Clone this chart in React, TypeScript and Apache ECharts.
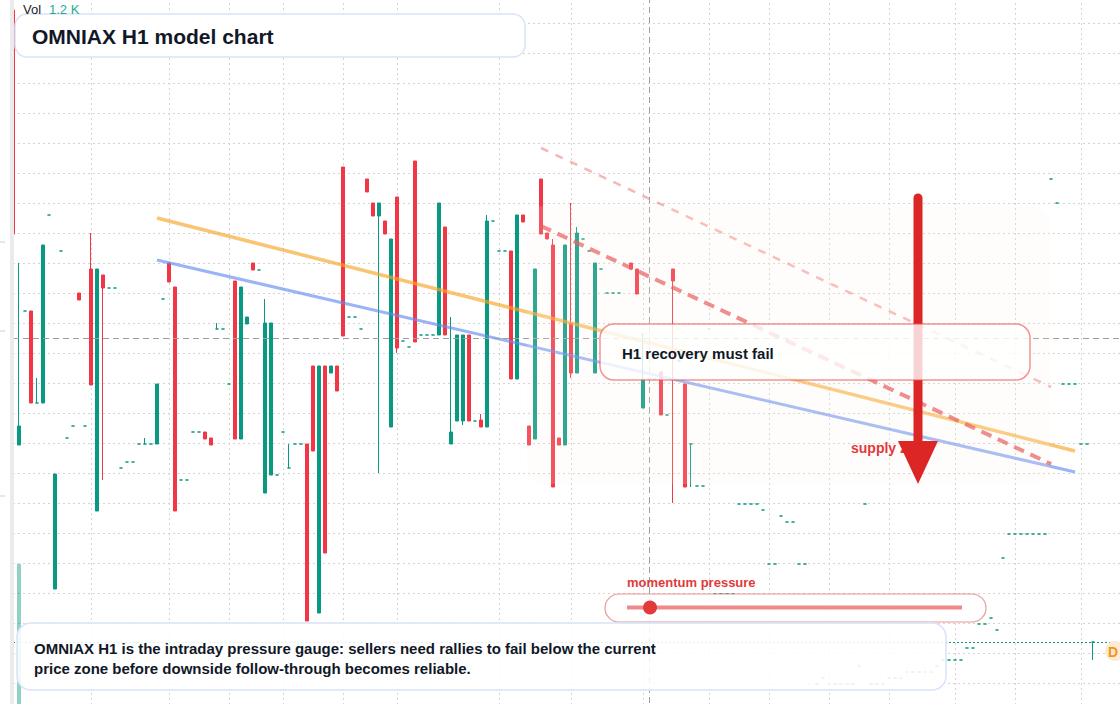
import { useEffect, useRef } from "react";
import * as echarts from "echarts";

// candles: [open, close, low, high]; a single number is a flat (doji) bar, null = no bar
const candles: (number | number[] | null)[] = [
  /* 0 */ [169.3, 146.9, 146.9, 169.3], [125.8, 127.7, 125.8, 144.0], 139.2, [139.2, 130.0, 130.0, 139.2],
  [130.0, 130.0, 130.0, 132.5], [130.0, 145.8, 130.0, 145.8], 148.8, [111.4, 122.9, 111.4, 122.9], 145.2, 126.5,
  /* 10 */ 127.7, [141.0, 140.3, 140.3, 141.0], 127.7, [143.4, 131.8, 131.8, 147.0], [119.2, 143.4, 119.2, 143.4],
  [142.8, 141.5, 122.3, 142.8], 141.5, 141.5, 123.5, 124.1,
  /* 20 */ 124.1, 125.9, [125.9, 125.9, 125.9, 126.5], 125.9, [125.9, 131.9, 125.9, 131.9], 140.4,
  [144.0, 142.1, 142.1, 144.0], [141.6, 119.2, 119.2, 141.6], 122.3, 122.3,
  /* 30 */ 127.1, 127.1, [127.1, 126.4, 126.4, 127.1], [126.5, 125.8, 125.8, 126.5], [137.4, 137.4, 137.4, 138.0],
  137.4, 131.9, [142.2, 126.4, 126.4, 142.2], [126.4, 141.6, 126.4, 141.6], [137.9, 138.6, 137.9, 138.6],
  /* 40 */ [144.0, 143.3, 143.3, 144.0], 143.3, [121.0, 138.0, 121.0, 140.4], [122.8, 138.0, 122.8, 138.0], 122.8,
  127.1, [123.5, 123.5, 123.5, 125.9], 125.9, 125.9, [125.9, 108.2, 108.2, 125.9],
  /* 50 */ [133.7, 125.2, 125.2, 133.7], [109.0, 133.7, 109.0, 133.7], [133.7, 115.0, 115.0, 133.7],
  [133.0, 133.7, 133.0, 133.7], [133.7, 131.2, 131.2, 133.7], [153.6, 136.7, 136.7, 153.6], 138.6, 138.6, 137.4,
  [152.4, 151.1, 151.1, 152.4],
  /* 60 */ [150.0, 148.7, 148.7, 150.0], [148.7, 150.0, 123.0, 150.0], [148.2, 146.9, 146.9, 148.2],
  [127.6, 146.4, 127.6, 146.4], [150.6, 135.5, 135.0, 150.6], 136.2, 135.6, [154.2, 136.1, 136.1, 154.2], 136.8, 136.8,
  /* 70 */ 136.8, [136.8, 150.0, 136.8, 150.0], [147.6, 136.8, 136.8, 147.6], [125.9, 127.1, 125.9, 138.6],
  [128.2, 136.8, 128.2, 136.8], [128.2, 136.8, 127.8, 136.8], [136.8, 128.2, 128.2, 136.8], 128.2,
  [128.3, 127.6, 127.6, 128.9], [127.6, 148.2, 127.6, 148.8],
  /* 80 */ 148.2, 145.2, 145.2, [145.2, 132.4, 132.4, 145.2], [132.4, 148.8, 132.4, 148.8],
  [148.8, 148.1, 148.1, 148.8], [127.7, 125.8, 125.8, 127.7], [126.4, 143.4, 126.4, 143.4],
  [152.4, 146.9, 146.9, 152.4], [147.0, 146.4, 146.4, 147.0],
  /* 90 */ [145.8, 121.6, 121.6, 146.4], [126.5, 125.8, 125.8, 126.5], [125.8, 145.8, 125.8, 145.8],
  [138.0, 133.0, 132.5, 150.0], [133.0, 147.0, 133.0, 147.6], 146.4, 145.2, [133.0, 144.0, 133.0, 144.0], 143.4, 141.0,
  /* 100 */ 141.0, 141.0, null, [144.0, 143.4, 143.4, 144.0], [143.4, 140.9, 140.9, 143.4],
  [129.5, 132.4, 129.5, 137.0], 132.4, 132.4, [133.1, 128.8, 128.8, 133.1], 128.8,
  /* 110 */ [143.4, 142.2, 120.0, 143.4], 134.2, [131.9, 121.6, 121.6, 131.9], [125.9, 125.9, 121.6, 125.9],
  121.7, 121.7, 137.4, 110.9, 110.9, 110.9,
  /* 120 */ 110.9, 119.9, 119.9, 119.9, 119.9, 119.3, 113.9, 113.9, 118.7, 118.1,
  /* 130 */ 118.1, 113.9, 113.9, null, 101.9, 102.5, 101.9, 101.9, 101.9, 101.9,
  /* 140 */ 101.9, 103.7, 119.9, 101.9, 101.9, 101.9, 102.5, 102.5, 102.5, 103.1,
  /* 150 */ 103.1, 103.1, 103.1, 103.1, 103.7, 104.3, 104.3, 104.3, 104.3, 105.5,
  /* 160 */ 105.5, 107.9, 107.9, 108.5, 107.3, 114.5, 116.9, 116.9, 116.9, 116.9,
  /* 170 */ 116.9, 116.9, 116.9, 152.4, 150.0, 131.9, 131.9, 131.9, 125.9, 125.9,
  /* 180 */ [106.1, 106.1, 104.3, 106.1],
];

const volumes = [null, 1200];

const barCount = 186;
const categories = Array.from({ length: barCount }, (_, i) =>
  `D${Math.floor(i / 24) + 1} ${String(i % 24).padStart(2, "0")}:00`
);

// bars where the time grid draws a vertical line
const timeTicks = [13, 26, 36, 45, 55, 64, 81, 93, 105, 116, 126, 136, 146, 157, 167, 178];

// overlay lines: [bar index, price]
const fastTrend = [[24, 148.5], [177, 125.2]];
const slowTrend = [[24, 144.3], [177, 123.1]];
const resistance = [[88, 147.7], [173, 123.9]];
const upperChannel = [[88, 155.5], [173, 131.6]];

const crossIndex = 106;
const crossPrice = 136.5;
const lastPrice = 106.1;

const UP = "#089981";
const DOWN = "#F23645";
const FONT = "Liberation Sans, Arial, Helvetica, sans-serif";
const INK = "#111827";

export default function App() {
  const ref = useRef<HTMLDivElement>(null);

  useEffect(() => {
    document.body.style.margin = "0";
    if (!ref.current) return;
    const chart = echarts.init(ref.current, null, { renderer: "svg" });

    const ohlc = candles.map((c) =>
      c === null ? ["-", "-", "-", "-"] : typeof c === "number" ? [c, c, c, c] : c
    );

    const trend = (data: number[][], lineStyle: object, z: number) => ({
      type: "line",
      data,
      showSymbol: false,
      silent: true,
      z,
      lineStyle,
    });

    chart.setOption({
      animation: false,
      backgroundColor: "#ffffff",
      grid: {
        left: 13,
        top: -7,
        width: 6 * (barCount - 1),
        height: 720,
        outerBoundsMode: "none",
        containLabel: false,
      },
      xAxis: {
        type: "category",
        data: categories,
        boundaryGap: false,
        axisLine: { show: false },
        axisTick: { show: false },
        axisLabel: { show: false },
        splitLine: {
          show: true,
          interval: (i: number) => timeTicks.includes(i),
          lineStyle: { color: "#d4d4d4", type: [2, 3], width: 1 },
        },
      },
      yAxis: [
        {
          type: "value",
          min: 99,
          max: 171,
          interval: 3,
          axisLine: { show: false },
          axisTick: { show: false },
          axisLabel: { show: false },
          splitLine: { lineStyle: { color: "#d4d4d4", type: [2, 3], width: 1 } },
        },
        { type: "value", min: 0, max: 5800, show: false },
      ],
      series: [
        {
          type: "bar",
          yAxisIndex: 1,
          data: volumes,
          barWidth: 4,
          silent: true,
          z: 1,
          itemStyle: { color: "rgba(8,153,129,0.45)" },
        },
        {
          type: "candlestick",
          data: ohlc,
          barWidth: 4,
          z: 2,
          itemStyle: {
            color: UP,
            color0: DOWN,
            borderColor: UP,
            borderColor0: DOWN,
            borderColorDoji: UP,
            borderWidth: 1,
          },
          markLine: {
            silent: true,
            symbol: ["none", "none"],
            label: { show: false },
            data: [
              { xAxis: crossIndex, lineStyle: { color: "#9e9e9e", type: [6, 4], width: 1 } },
              { yAxis: crossPrice, lineStyle: { color: "#9e9e9e", type: [6, 4], width: 1 } },
              { yAxis: lastPrice, lineStyle: { color: UP, type: [2, 2], width: 1 } },
            ],
          },
        },
        trend(fastTrend, { color: "rgba(247,166,40,0.65)", width: 3.5 }, 3),
        trend(slowTrend, { color: "rgba(100,140,240,0.65)", width: 3 }, 3),
        trend(upperChannel, { color: "rgba(238,110,110,0.5)", width: 2.5, type: [8, 8] }, 4),
        trend(resistance, { color: "rgba(228,70,70,0.7)", width: 4, type: [11, 7] }, 4),
      ],
      graphic: [
        { type: "rect", z: 50, shape: { x: 10, y: 0, width: 4, height: 704 }, style: { fill: "#ebebeb" } },
        ...[242, 331, 496].map((y) => ({
          type: "line",
          z: 50,
          shape: { x1: 0, y1: y, x2: 5, y2: y },
          style: { stroke: "#cfcfcf", lineWidth: 1 },
        })),
        {
          type: "rect",
          z: 10,
          shape: { x: 527, y: 206, width: 523, height: 278, r: 18 },
          style: { fill: "rgba(255,240,228,0.16)" },
        },
        {
          type: "text",
          z: 11,
          x: 851,
          y: 448,
          style: { text: "supply zone", fill: "#e5383b", fontFamily: FONT, fontWeight: "bold", fontSize: 14, verticalAlign: "middle" },
        },
        {
          type: "line",
          z: 12,
          shape: { x1: 918, y1: 198, x2: 918, y2: 446 },
          style: { stroke: "#dc2626", lineWidth: 9, lineCap: "round" },
        },
        {
          type: "polygon",
          z: 13,
          shape: { points: [[898, 441], [938, 441], [918, 484]] },
          style: { fill: "#dc2626" },
        },
        {
          type: "rect",
          z: 14,
          shape: { x: 600, y: 324, width: 430, height: 56, r: 14 },
          style: { fill: "rgba(255,255,255,0.8)", stroke: "rgba(228,80,80,0.6)", lineWidth: 1.5 },
        },
        {
          type: "text",
          z: 15,
          x: 622,
          y: 353,
          style: { text: "H1 recovery must fail", fill: INK, fontFamily: FONT, fontWeight: "bold", fontSize: 15, verticalAlign: "middle" },
        },
        {
          type: "text",
          z: 14,
          x: 627,
          y: 582,
          style: { text: "momentum pressure", fill: "#e03b3b", fontFamily: FONT, fontWeight: "bold", fontSize: 13, verticalAlign: "middle" },
        },
        {
          type: "rect",
          z: 14,
          shape: { x: 605, y: 594, width: 381, height: 28, r: 14 },
          style: { fill: "rgba(255,255,255,0.9)", stroke: "rgba(228,80,80,0.6)", lineWidth: 1.2 },
        },
        {
          type: "line",
          z: 15,
          shape: { x1: 627, y1: 607.5, x2: 962, y2: 607.5 },
          style: { stroke: "#ef8a8a", lineWidth: 4 },
        },
        { type: "circle", z: 16, shape: { cx: 650, cy: 607.5, r: 7 }, style: { fill: "#e23a3a" } },
        {
          type: "rect",
          z: 18,
          shape: { x: 17, y: 623, width: 929, height: 67, r: 14 },
          style: { fill: "rgba(255,255,255,0.88)", stroke: "#d8e4f8", lineWidth: 1.5 },
        },
        {
          type: "text",
          z: 19,
          x: 34,
          y: 648,
          style: {
            text: "OMNIAX H1 is the intraday pressure gauge: sellers need rallies to fail below the current",
            fill: INK, fontFamily: FONT, fontWeight: "bold", fontSize: 15, verticalAlign: "middle",
          },
        },
        {
          type: "text",
          z: 19,
          x: 34,
          y: 668,
          style: {
            text: "price zone before downside follow-through becomes reliable.",
            fill: INK, fontFamily: FONT, fontWeight: "bold", fontSize: 15, verticalAlign: "middle",
          },
        },
        {
          type: "rect",
          z: 20,
          shape: { x: 15, y: 14, width: 510, height: 43, r: 12 },
          style: { fill: "#ffffff", stroke: "#d8e4f8", lineWidth: 1.5 },
        },
        {
          type: "text",
          z: 21,
          x: 32,
          y: 36,
          style: { text: "OMNIAX H1 model chart", fill: INK, fontFamily: FONT, fontWeight: "bold", fontSize: 21, verticalAlign: "middle" },
        },
        {
          type: "text",
          z: 21,
          x: 23,
          y: 9,
          style: { text: "Vol", fill: "#222222", fontFamily: FONT, fontSize: 13, verticalAlign: "middle" },
        },
        {
          type: "text",
          z: 21,
          x: 49,
          y: 9,
          style: { text: "1.2 K", fill: "#22ab94", fontFamily: FONT, fontSize: 13, verticalAlign: "middle" },
        },
        { type: "circle", z: 21, shape: { cx: 1115, cy: 651, r: 10 }, style: { fill: "#fdebd3" } },
        {
          type: "text",
          z: 22,
          x: 1113,
          y: 652,
          style: { text: "D", fill: "#f7931a", fontFamily: FONT, fontWeight: "bold", fontSize: 14, align: "center", verticalAlign: "middle" },
        },
      ],
    });

    return () => chart.dispose();
  }, []);

  return <div ref={ref} style={{ width: 1120, height: 704 }} />;
}
